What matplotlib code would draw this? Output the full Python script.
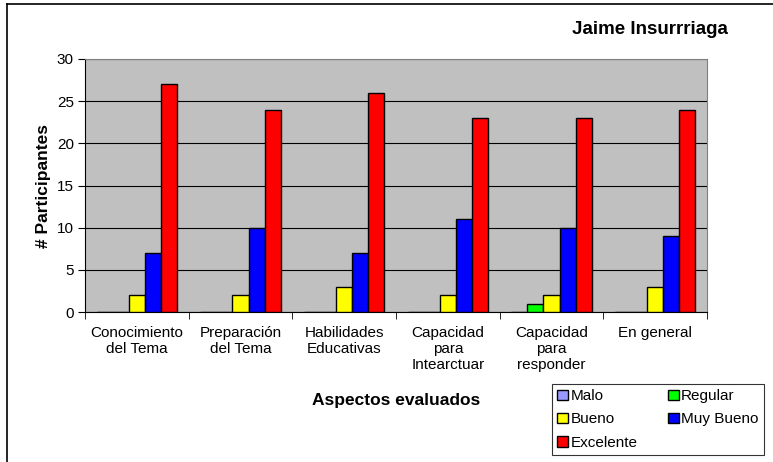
import numpy as np
import matplotlib
matplotlib.use("Agg")
import matplotlib.pyplot as plt
from matplotlib.lines import Line2D

plt.rcParams['font.family'] = ['Liberation Sans', 'DejaVu Sans']

categories = ["Conocimiento\ndel Tema", "Preparación\ndel Tema", "Habilidades\nEducativas",
              "Capacidad\npara\nIntearctuar", "Capacidad\npara\nresponder", "En general"]
series_names = ["Malo", "Regular", "Bueno", "Muy Bueno", "Excelente"]
malo = [0, 0, 0, 0, 0, 0]
regular = [0, 0, 0, 0, 1, 0]
bueno = [2, 2, 3, 2, 2, 3]
muy_bueno = [7, 10, 7, 11, 10, 9]
excelente = [27, 24, 26, 23, 23, 24]
colors = ["#9999FF", "#00FF00", "#FFFF00", "#0000FF", "#FF0000"]

fig = plt.figure(figsize=(7.73, 4.62), dpi=100)
ax = fig.add_axes([85/773, 1-312/462, (707-85)/773, (312-59)/462])
ax.set_facecolor("#C0C0C0")

x = np.arange(len(categories))
w = 0.155
values = [malo, regular, bueno, muy_bueno, excelente]
handles = []
for i, (name, vals, c) in enumerate(zip(series_names, values, colors)):
    h = ax.bar(x + (i - 2) * w, vals, w, color=c, edgecolor="black", linewidth=1.0,
               label=name, zorder=3)
    handles.append(h)

ax.set_xlim(-0.5, len(categories) - 0.5)
ax.set_ylim(0, 30)
ax.set_yticks(range(0, 31, 5))
ax.yaxis.grid(True, color="black", linewidth=0.8, zorder=1)
ax.set_axisbelow(True)

ax.set_xticks(x)
ax.set_xticklabels(categories, fontsize=11, linespacing=1.2)
ax.set_xticks(np.arange(-0.5, len(categories)), minor=True)
ax.tick_params(axis="x", which="major", length=0, pad=10)
ax.tick_params(axis="x", which="minor", length=5, color="black", direction="out")
ax.tick_params(axis="y", labelsize=11, length=5, direction="out", pad=3)

for s in ["top", "right"]:
    ax.spines[s].set_color("#808080")
ax.spines["left"].set_color("black")
ax.spines["bottom"].set_color("black")

ax.set_ylabel("# Participantes", fontsize=12.5, fontweight="bold", labelpad=4)
ax.set_xlabel("Aspectos evaluados", fontsize=12.5, fontweight="bold", labelpad=15)

fig.text(650/773, 1-29/462, "Jaime Insurrriaga", fontsize=13.5, fontweight="bold",
         ha="center", va="center")

order = [0, 2, 4, 1, 3]
leg = fig.legend([handles[i] for i in order], [series_names[i] for i in order],
                 ncol=2, loc="lower left", bbox_to_anchor=(552/773, 1-455/462),
                 fontsize=11, frameon=True, fancybox=False, edgecolor="black",
                 handlelength=0.7, handleheight=0.7, handletextpad=0.15,
                 columnspacing=2.0, labelspacing=0.6, borderpad=0.35,
                 borderaxespad=0)
leg.get_frame().set_linewidth(0.8)

fig.add_artist(Line2D([7/773, 7/773], [0, 1-4/462], color="black", linewidth=1.2,
                      transform=fig.transFigure))
fig.add_artist(Line2D([7/773, 1], [1-4/462, 1-4/462], color="black", linewidth=1.2,
                      transform=fig.transFigure))

fig.savefig("out.png", dpi=100)
